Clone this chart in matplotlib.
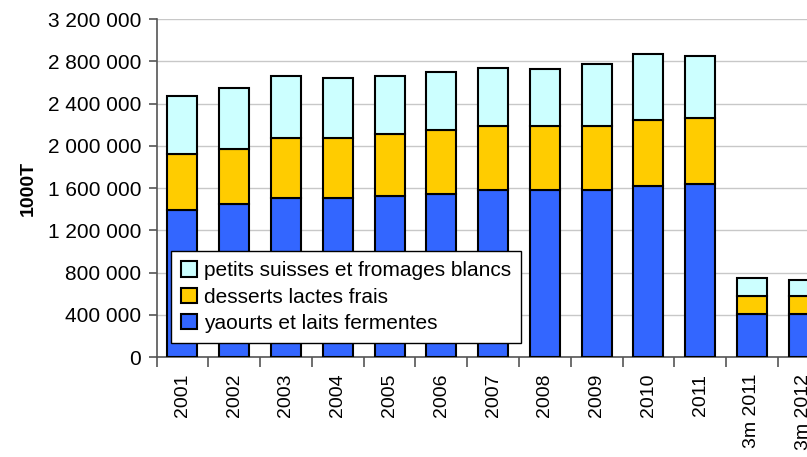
import matplotlib.pyplot as plt
import numpy as np
from matplotlib.ticker import FuncFormatter, FixedLocator

plt.rcParams['font.family'] = ['Liberation Sans', 'DejaVu Sans']

labels = ["2001", "2002", "2003", "2004", "2005", "2006", "2007", "2008",
          "2009", "2010", "2011", "3m 2011", "3m 2012"]
# totals (1000T)
yaourts = [1393000, 1450000, 1504000, 1501000, 1526000, 1545000, 1580000,
           1580000, 1580000, 1621000, 1637000, 405000, 408000]
desserts_top = [1921000, 1974000, 2073000, 2073000, 2111000, 2152000, 2190000,
                2186000, 2186000, 2240000, 2262000, 578000, 581000]
total_top = [2467000, 2543000, 2660000, 2638000, 2660000, 2698000, 2736000,
             2727000, 2773000, 2868000, 2846000, 749000, 733000]

yaourts = np.array(yaourts)
desserts = np.array(desserts_top) - yaourts
petits = np.array(total_top) - np.array(desserts_top)

fig = plt.figure(figsize=(8.07, 4.57), dpi=100)
ax = fig.add_axes([0.194, 0.2188, 0.834, 0.7396])

x = np.arange(len(labels))
w = 0.58
ax.bar(x, yaourts, w, color="#3366FF", edgecolor="black", linewidth=1.5,
       label="yaourts et laits fermentes", zorder=3)
ax.bar(x, desserts, w, bottom=yaourts, color="#FFCC00", edgecolor="black",
       linewidth=1.5, label="desserts lactes frais", zorder=3)
ax.bar(x, petits, w, bottom=yaourts + desserts, color="#CCFFFF",
       edgecolor="black", linewidth=1.5,
       label="petits suisses et fromages blancs", zorder=3)

ax.set_xlim(-0.5, len(labels) - 0.5)
ax.set_ylim(0, 3200000)
ax.set_yticks(np.arange(0, 3200001, 400000))
ax.yaxis.set_major_formatter(FuncFormatter(lambda v, p: f"{int(v):,}".replace(",", " ")))
ax.grid(axis="y", color="#c8c8c8", linewidth=1.0, zorder=0)

ax.set_xticks(x)
ax.set_xticklabels(labels, rotation=90, fontsize=14)
ax.tick_params(axis="x", which="major", length=0, pad=12)
ax.xaxis.set_minor_locator(FixedLocator(np.arange(-0.5, len(labels), 1)))
ax.tick_params(axis="x", which="minor", length=7, color="#555555", width=1.2)
ax.tick_params(axis="y", labelsize=15, length=6, color="#555555", width=1.2, pad=5)

for s in ["top", "right"]:
    ax.spines[s].set_visible(False)
ax.spines["left"].set_color("#555555")
ax.spines["bottom"].set_color("#555555")
ax.spines["left"].set_linewidth(1.2)
ax.spines["bottom"].set_linewidth(1.2)

ax.set_ylabel("1000T", fontsize=14, fontweight="bold", labelpad=8)

h, l = ax.get_legend_handles_labels()
leg = ax.legend(h[::-1], l[::-1], loc="lower left", bbox_to_anchor=(0.0208, 0.0405),
                borderaxespad=0, fontsize=15, fancybox=False, frameon=True,
                framealpha=1, handlelength=0.75, handleheight=0.75,
                handletextpad=0.35, labelspacing=0.35, borderpad=0.5)
leg.get_frame().set_edgecolor("black")
leg.get_frame().set_linewidth(1.0)
leg.set_zorder(5)

fig.savefig("out.png", dpi=100)
